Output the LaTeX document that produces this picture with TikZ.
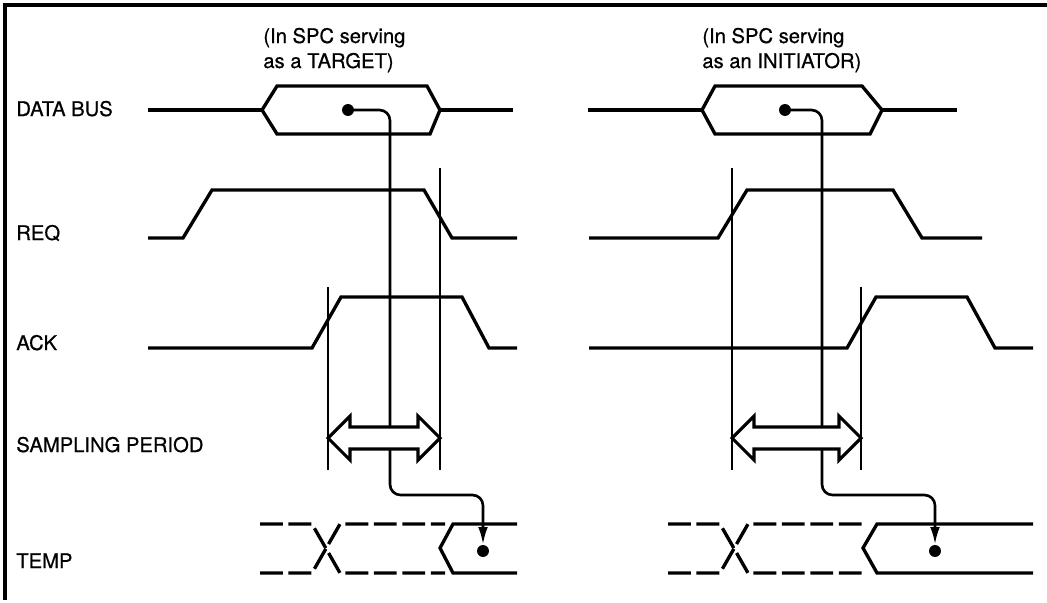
\documentclass[tikz,border=0pt]{standalone}
\usepackage{fontspec}
\setmainfont{TeX Gyre Heros}[BoldFont=TeX Gyre Heros, BoldFeatures={FakeBold=0.6}]
\usetikzlibrary{arrows.meta}
\begin{document}
\begin{tikzpicture}[x=0.02cm,y=-0.02cm,
 wave/.style={line width=1.9pt, line join=miter},
 refl/.style={line width=1.2pt},
 conn/.style={line width=1.5pt, rounded corners=6pt, -{Latex[length=10pt,width=5.5pt]}},
 bdot/.style={circle, fill, inner sep=0pt, minimum size=6.8pt},
 lab/.style={anchor=base west, inner sep=0pt, font=\fontsize{11.5}{13}\selectfont\bfseries},
 dbl/.style={line width=1.8pt, fill=white, line join=miter},
 dsh/.style={wave, dash pattern=on 13pt off 3.2pt}]
\useasboundingbox (0,0) rectangle (1047,602);
% frame
\draw[line width=1.8pt] (5,600)--(5,5)--(1047,5);
% labels
\node[lab] (lDB) at (16,116) {DATA BUS};
\node[lab] (lREQ) at (16,240) {REQ};
\node[lab] (lACK) at (16,350) {ACK};
\node[lab] (lSP) at (16,452) {SAMPLING PERIOD};
\node[lab] (lTEMP) at (16,568) {TEMP};
\node[lab] (h1a) at (263,43) {(In SPC serving};
\node[lab] (h1b) at (263,68) {as a TARGET)};
\node[lab] (h2a) at (702,43) {(In SPC serving};
\node[lab] (h2b) at (702,68) {as an INITIATOR)};
% ---------- left panel ----------
\draw[wave] (148,110)--(262,110);
\draw[wave] (262,110)--(277,86)--(427,86)--(440,110)--(430,134)--(277,134)--cycle;
\draw[wave] (440,110)--(513,110);
\draw[wave] (148,238)--(183,238)--(212,190)--(424,190)--(452,238)--(517,238);
\draw[wave] (148,348)--(312,348)--(341,297)--(462,297)--(489,348)--(517,348);
\draw[refl] (328,287)--(328,470);
\draw[refl] (440,168)--(440,470);
\draw[dsh] (260,524)--(312,524)--(340,573)--(445,573);
\draw[dsh] (260,573)--(312,573)--(340,524)--(445,524);
\draw[wave] (517,524)--(453,524)--(440,548)--(453,573)--(517,573);
\node[bdot] (d1) at (348,110) {};
\node[bdot] (e1) at (483,551) {};
\coordinate (k1) at (390,495);
\draw[conn] (d1.center) -| (k1) -| (e1.north);
\draw[dbl] (328,438)--(350,416)--(350,427)--(418,427)--(418,416)--(440,438)--(418,460)--(418,449)--(350,449)--(350,460)--cycle;
% ---------- right panel ----------
\draw[wave] (588,110)--(702,110);
\draw[wave] (702,110)--(715,86)--(862,86)--(882,110)--(870,134)--(715,134)--cycle;
\draw[wave] (882,110)--(957,110);
\draw[wave] (589,238)--(718,238)--(747,190)--(893,190)--(922,238)--(982,238);
\draw[wave] (589,348)--(847,348)--(876,297)--(967,297)--(995,348)--(1033,348);
\draw[refl] (732,168)--(732,470);
\draw[refl] (861,287)--(861,470);
\draw[dsh] (668,524)--(720,524)--(748,573)--(866,573);
\draw[dsh] (668,573)--(720,573)--(748,524)--(866,524);
\draw[wave] (1033,524)--(877,524)--(863,548)--(877,573)--(1033,573);
\node[bdot] (d2) at (785,110) {};
\node[bdot] (e2) at (935,551) {};
\coordinate (k2) at (822,495);
\draw[conn] (d2.center) -| (k2) -| (e2.north);
\draw[dbl] (732,438)--(754,416)--(754,427)--(839,427)--(839,416)--(861,438)--(839,460)--(839,449)--(754,449)--(754,460)--cycle;
\end{tikzpicture}
\end{document}
